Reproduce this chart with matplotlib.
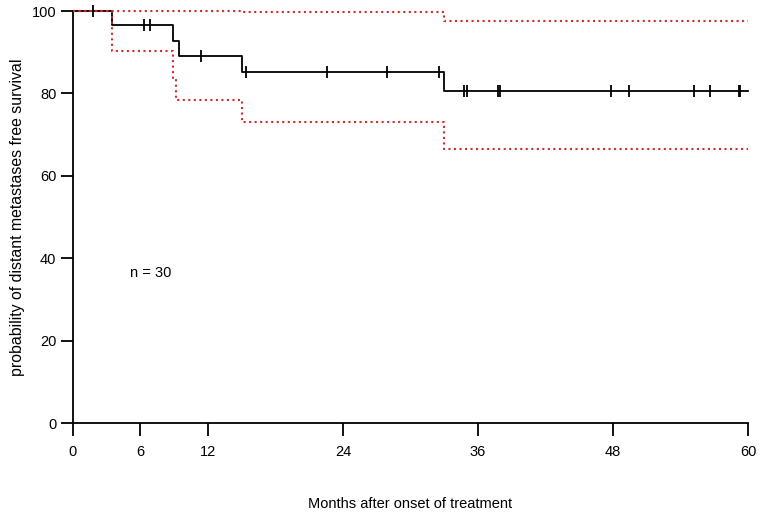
import matplotlib
matplotlib.use("Agg")
import matplotlib.pyplot as plt

plt.rcParams['font.family'] = ['Liberation Sans', 'DejaVu Sans']

# Kaplan-Meier estimate (step times in months, survival in %)
km_time = [0, 3.44, 8.9, 9.4, 15.0, 33.0, 60]
km_surv = [100, 96.6, 92.8, 89.1, 85.2, 80.5, 80.5]

# 95% confidence band
ci_upper_time = [0, 15.0, 33.0, 60]
ci_upper = [100, 99.7, 97.6, 97.6]
ci_lower_time = [0, 3.44, 8.9, 9.2, 15.0, 33.0, 60]
ci_lower = [100, 90.3, 83.7, 78.4, 73.1, 66.4, 66.4]

# censored observations
cens_time = [1.8, 6.3, 6.85, 11.35, 15.35, 22.6, 27.9, 32.5,
             34.8, 35.0, 37.8, 38.0, 47.8, 49.45, 55.2, 56.6, 59.2, 59.3]
cens_surv = [100, 96.6, 96.6, 89.1, 85.2, 85.2, 85.2, 85.2,
             80.5, 80.5, 80.5, 80.5, 80.5, 80.5, 80.5, 80.5, 80.5, 80.5]

xticks = [0, 6, 12, 24, 36, 48, 60]
yticks = [0, 20, 40, 60, 80, 100]

fig = plt.figure(figsize=(7.62, 5.12), dpi=100)
ax = fig.add_axes([0.0958, 0.1738, 0.8858, 0.8047])

ax.plot(km_time, km_surv, drawstyle='steps-post', color='black', lw=1.3,
        clip_on=False, zorder=2)
ax.plot(cens_time, cens_surv, ls='none', marker='|', ms=9, mew=1.3,
        color='black', clip_on=False, zorder=2)
ax.plot(ci_upper_time, ci_upper, drawstyle='steps-post', color='#d42a2a',
        ls=':', lw=1.5, clip_on=False, zorder=3)
ax.plot(ci_lower_time, ci_lower, drawstyle='steps-post', color='#d42a2a',
        ls=':', lw=1.5, clip_on=False, zorder=3)

ax.text(5.1, 36.5, 'n = 30', fontsize=10.5, va='center')

ax.set_xlim(0, 60)
ax.set_ylim(0, 100)
ax.set_xticks(xticks)
ax.set_yticks(yticks)
for s in ['top', 'right']:
    ax.spines[s].set_visible(False)
for s in ['left', 'bottom']:
    ax.spines[s].set_linewidth(1.3)
ax.tick_params(axis='x', direction='out', length=9, width=1.3, pad=7,
               labelsize=10.5)
ax.tick_params(axis='y', direction='out', length=9, width=1.3, pad=3,
               labelsize=10.5)
ax.set_xlabel('Months after onset of treatment', fontsize=10.5, labelpad=27)
ax.set_ylabel('probability of distant metastases free survival',
              fontsize=11.4, labelpad=5)

fig.savefig('out.png', dpi=100)
